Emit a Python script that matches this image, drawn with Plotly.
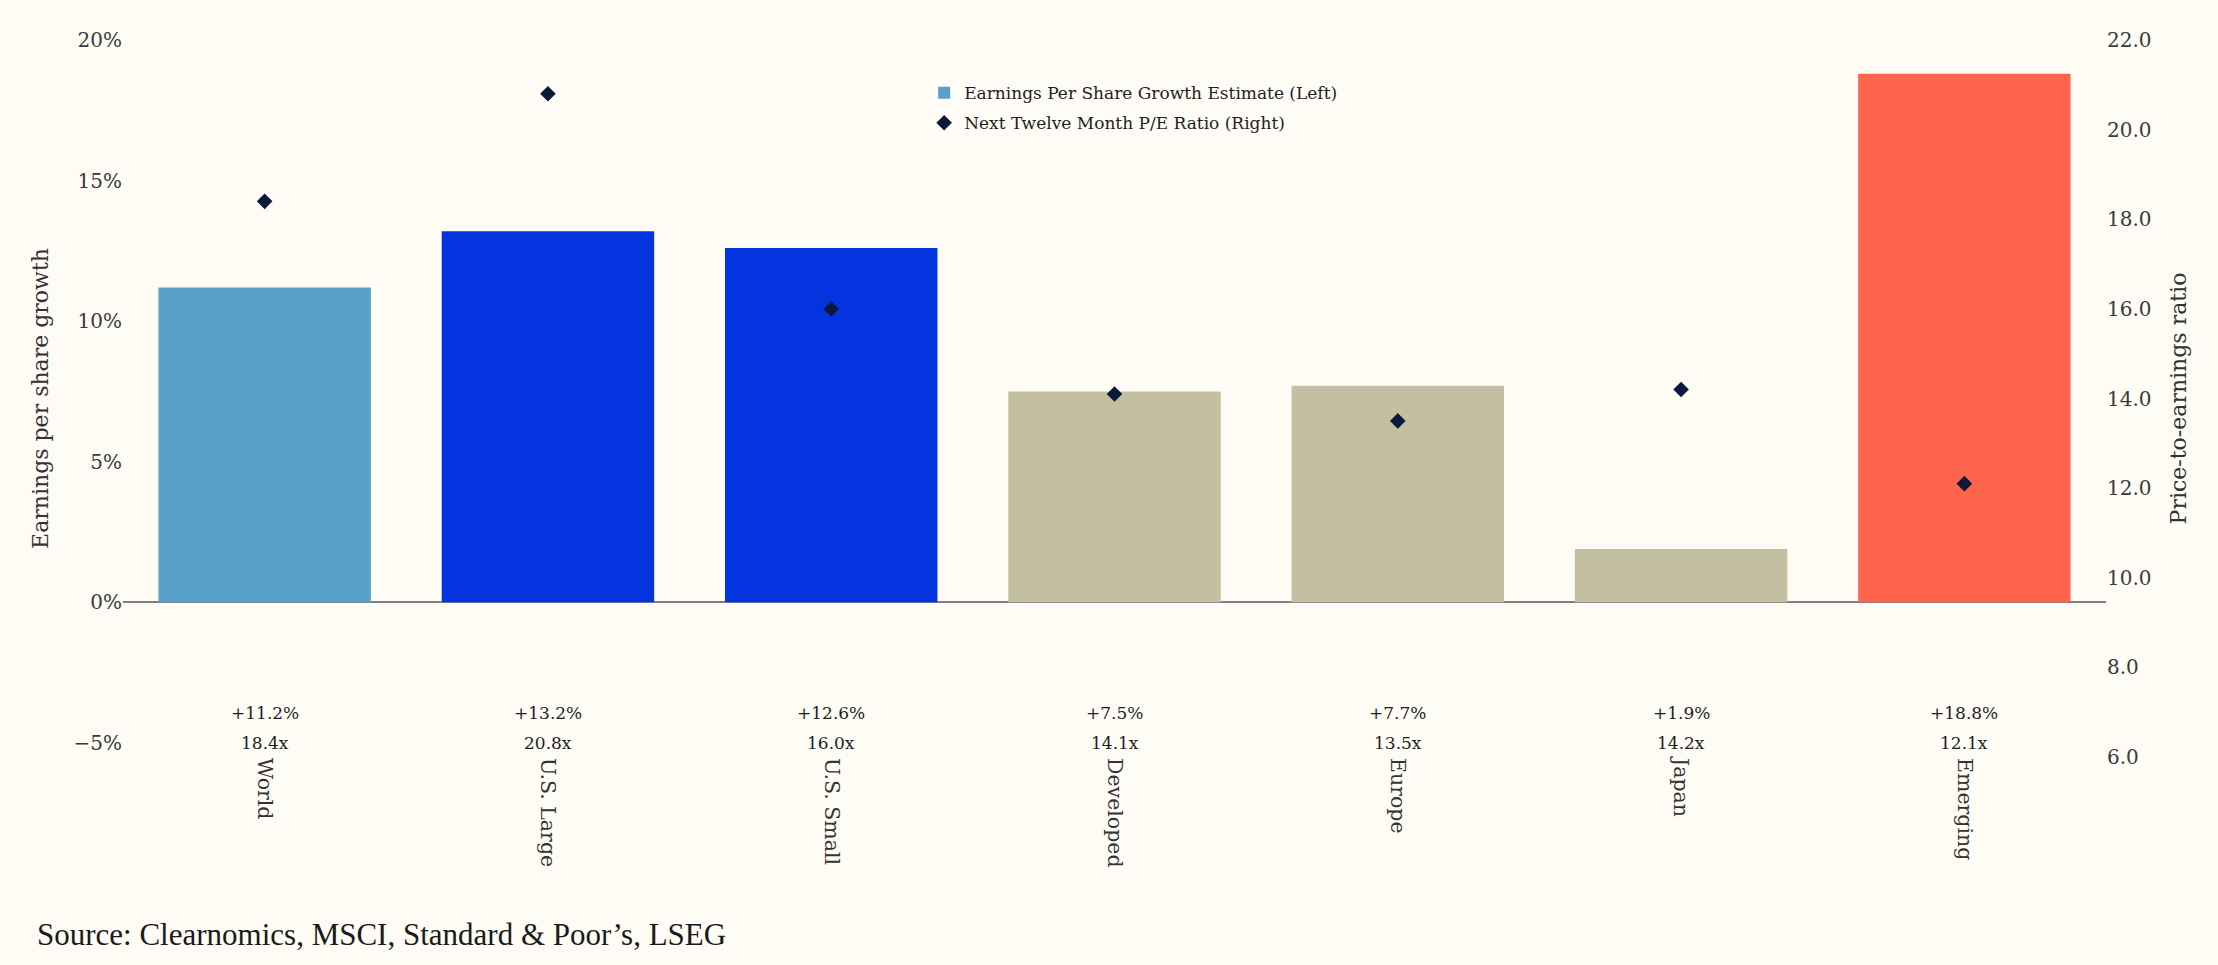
import plotly.graph_objects as go

# data
regions = ["World", "U.S. Large", "U.S. Small", "Developed", "Europe", "Japan", "Emerging"]
eps_growth = [11.2, 13.2, 12.6, 7.5, 7.7, 1.9, 18.8]   # % (left axis)
pe_ratio = [18.4, 20.8, 16.0, 14.1, 13.5, 14.2, 12.1]   # x (right axis)
bar_colors = ["#5AA1CA", "#0433E0", "#0433E0", "#C5BFA1", "#C5BFA1", "#C5BFA1", "#FF644D"]

left_ticks = [-5, 0, 5, 10, 15, 20]
left_labels = [f"{v}%".replace("-", "\u2212") for v in left_ticks]
right_ticks = [6, 8, 10, 12, 14, 16, 18, 20, 22]

bg = "#FEFCF5"
serif = "DejaVu Serif"

fig = go.Figure()

fig.add_trace(go.Bar(
    x=regions, y=eps_growth,
    name="Earnings Per Share Growth Estimate (Left)",
    legendgroup="eps",
    marker=dict(color=bar_colors, line=dict(width=0)),
    hovertemplate="%{x}: %{y:.1f}%<extra></extra>",
))

fig.add_trace(go.Scatter(
    x=regions, y=pe_ratio, yaxis="y2", mode="markers",
    name="Next Twelve Month P/E Ratio (Right)",
    legendgroup="pe",
    marker=dict(symbol="diamond", size=12, color="#0B1A3B"),
    hovertemplate="%{x}: %{y:.1f}x<extra></extra>",
))

# value labels under each category
for reg, e, p in zip(regions, eps_growth, pe_ratio):
    fig.add_annotation(x=reg, y=0.061, xref="x", yref="paper", text=f"+{e:.1f}%",
                       showarrow=False, font=dict(family=serif, size=17, color="#1E1E1E"),
                       yanchor="middle")
    fig.add_annotation(x=reg, y=0.019, xref="x", yref="paper", text=f"{p:.1f}x",
                       showarrow=False, font=dict(family=serif, size=17, color="#1E1E1E"),
                       yanchor="middle")

fig.add_annotation(x=-0.0444, y=-0.248, xref="paper", yref="paper",
                   text="Source: Clearnomics, MSCI, Standard &amp; Poor’s, LSEG",
                   showarrow=False, xanchor="left", yanchor="middle",
                   font=dict(family="Liberation Serif", size=31, color="#1A1A1A"))

# page has an 8px body margin, so the figure is a bit smaller and margins shifted
fig.update_layout(
    width=2210, height=957,
    margin=dict(l=115, r=112, t=32, b=208),
    paper_bgcolor=bg, plot_bgcolor=bg,
    bargap=0.25,
    font=dict(family=serif, size=20, color="#3A3A3A"),
    showlegend=True,
    legend=dict(x=0.404, y=0.951, xanchor="left", yanchor="top",
                bgcolor="rgba(0,0,0,0)", font=dict(family=serif, size=17, color="#1E1E1E"),
                itemwidth=30, traceorder="grouped", tracegroupgap=5),
    xaxis=dict(tickangle=90, showgrid=False, showline=False, ticks="",
               tickfont=dict(family=serif, size=20.5, color="#333333"),
               range=[-0.5, 6.5]),
    yaxis=dict(range=[-5.5, 20], tickvals=left_ticks, ticktext=left_labels,
               showgrid=False, zeroline=True, zerolinecolor="#808080", zerolinewidth=2,
               showline=False, ticks="",
               title=dict(text="Earnings per share growth", standoff=18,
                          font=dict(family=serif, size=22, color="#333333"))),
    yaxis2=dict(range=[6, 22], tickvals=right_ticks, tickformat=".1f",
                overlaying="y", side="right", showgrid=False, zeroline=False,
                showline=False, ticks="",
                title=dict(text="Price-to-earnings ratio", standoff=20,
                           font=dict(family=serif, size=22, color="#333333"))),
)

fig.write_html("out.html", post_script="document.body.style.backgroundColor='#FEFCF5';")
